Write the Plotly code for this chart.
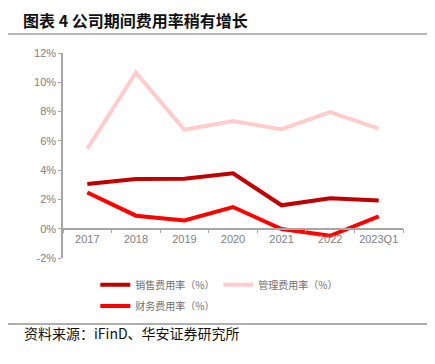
import plotly.graph_objects as go

categories = ["2017", "2018", "2019", "2020", "2021", "2022", "2023Q1"]
sales_rate = [3.06, 3.40, 3.42, 3.79, 1.60, 2.08, 1.92]
mgmt_rate = [5.46, 10.66, 6.76, 7.35, 6.80, 7.97, 6.83]
fin_rate = [2.47, 0.89, 0.57, 1.48, -0.02, -0.48, 0.84]
y_ticks = [-2, 0, 2, 4, 6, 8, 10, 12]
y_tick_labels = [f"{v}%" for v in y_ticks]

CJK = "Noto Sans CJK SC"
GREY = "#808080"

fig = go.Figure()
fig.add_trace(go.Scatter(x=categories, y=sales_rate, mode="lines", name="销售费用率（%）",
                         line=dict(color="#C00000", width=4), legend="legend"))
fig.add_trace(go.Scatter(x=categories, y=mgmt_rate, mode="lines", name="管理费用率（%）",
                         line=dict(color="#FFCCCC", width=4), legend="legend"))
fig.add_trace(go.Scatter(x=categories, y=fin_rate, mode="lines", name="财务费用率（%）",
                         line=dict(color="#FF0000", width=4), legend="legend2"))

legend_font = dict(family=CJK, size=10, color="#6f6f6f")
fig.update_layout(
    width=435, height=364,
    margin=dict(l=55, r=40, t=45, b=114),
    paper_bgcolor="white", plot_bgcolor="white",
    showlegend=True,
    legend=dict(orientation="h", x=0.095, xanchor="left", y=-0.13, yanchor="middle",
                font=legend_font, bgcolor="rgba(0,0,0,0)", entrywidth=78, entrywidthmode="pixels",
                tracegroupgap=0),
    legend2=dict(orientation="h", x=0.095, xanchor="left", y=-0.234, yanchor="middle",
                 font=legend_font, bgcolor="rgba(0,0,0,0)"),
    xaxis=dict(type="category", anchor="free", position=2/14,
               showline=True, linecolor="#A6A6A6", linewidth=1.5,
               ticks="outside", tickson="boundaries", ticklen=4, tickcolor="#A6A6A6",
               showgrid=False, zeroline=False,
               tickfont=dict(family="Liberation Sans, Arial", size=11, color=GREY),
               range=[-0.5, 6.5]),
    yaxis=dict(range=[-2, 12], tickvals=y_ticks, ticktext=y_tick_labels,
               showline=True, linecolor="#A6A6A6", linewidth=1.5,
               ticks="outside", ticklen=3, tickcolor="#A6A6A6",
               showgrid=False, zeroline=False,
               tickfont=dict(family="Liberation Sans, Arial", size=11, color=GREY)),
    shapes=[
        dict(type="line", xref="paper", yref="paper", x0=-63/340, x1=(443-63)/340,
             y0=(258-34)/205, y1=(258-34)/205, line=dict(color="#A0A0A0", width=1.5)),
        dict(type="line", xref="paper", yref="paper", x0=-63/340, x1=(430-63)/340,
             y0=(258-324)/205, y1=(258-324)/205, line=dict(color="#606060", width=1.2)),
    ],
    annotations=[
        dict(text="<b>图表 4 公司期间费用率稍有增长</b>", xref="paper", yref="paper",
             x=(22-63)/340, y=(258-20)/205, xanchor="left", yanchor="middle", showarrow=False,
             borderpad=0, font=dict(family=CJK, size=16, color="#111111")),
        dict(text="资料来源：iFinD、华安证券研究所", xref="paper", yref="paper",
             x=(22-63)/340, y=(258-333)/205, xanchor="left", yanchor="middle", showarrow=False,
             font=dict(family=CJK, size=14, color="#111111")),
    ],
)

fig.write_html("out.html")
